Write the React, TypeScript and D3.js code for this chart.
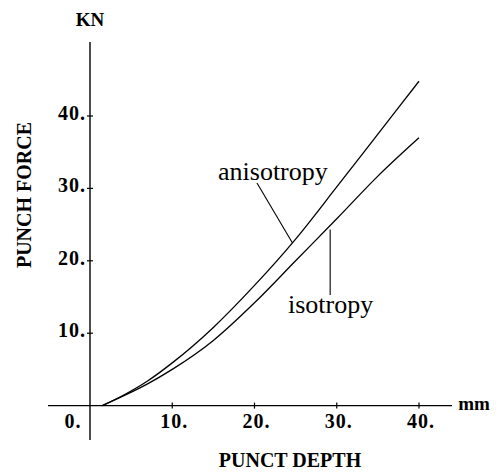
import React from 'react';
import * as d3 from 'd3';

// punch depth (mm) vs punch force (kN)
const anisoDepth = [1.5, 4, 7, 10, 15, 20, 25, 30, 35, 40];
const anisoForce = [0, 1.4, 3.4, 5.9, 10.8, 16.6, 23.0, 30.2, 37.5, 44.8];
const isoDepth = [1.5, 4, 7, 10, 15, 20, 25, 30, 35, 40];
const isoForce = [0, 1.3, 3.0, 5.0, 9.0, 14.2, 20.0, 25.8, 31.7, 37.0];
const xTicks = [0, 10, 20, 30, 40];
const yTicks = [10, 20, 30, 40];

const serif = '"Liberation Serif", "DejaVu Serif", serif';

export default function App() {
  const width = 499, height = 472;
  const x = d3.scaleLinear().domain([0, 40]).range([90, 419]);
  const y = d3.scaleLinear().domain([0, 40]).range([405.6, 116]);

  const line = d3.line<[number, number]>()
    .x(d => x(d[0]))
    .y(d => y(d[1]))
    .curve(d3.curveMonotoneX);

  const aniso = anisoDepth.map((d, i) => [d, anisoForce[i]] as [number, number]);
  const iso = isoDepth.map((d, i) => [d, isoForce[i]] as [number, number]);

  // points where the label leaders touch the curves
  const anisoAt = d3.scaleLinear().domain(anisoDepth).range(anisoForce);
  const isoAt = d3.scaleLinear().domain(isoDepth).range(isoForce);
  const aPt = [x(24.6), y(anisoAt(24.6))];
  const iPt = [x(29.2), y(isoAt(29.2))];

  const tickFont = { fontFamily: serif, fontWeight: 'bold', fontSize: 20, letterSpacing: 1 } as const;

  return (
    <svg width={width} height={height} style={{ position: 'absolute', left: 0, top: 0, background: '#fff' }}>
      {/* axes */}
      <line x1={x(0)} x2={x(0)} y1={42} y2={440} stroke="#000" strokeWidth={1.4} />
      <line x1={48} x2={452} y1={y(0)} y2={y(0)} stroke="#000" strokeWidth={1.4} />

      {yTicks.map(t => (
        <g key={'y' + t}>
          <line x1={x(0) - 3} x2={x(0) + 3} y1={y(t)} y2={y(t)} stroke="#000" strokeWidth={1.2} />
          <text x={86} y={y(t) + 4} textAnchor="end" style={tickFont}>{t}.</text>
        </g>
      ))}
      {xTicks.map(t => (
        <g key={'x' + t}>
          {t > 0 && <line x1={x(t)} x2={x(t)} y1={y(0) - 3} y2={y(0) + 3} stroke="#000" strokeWidth={1.2} />}
          <text x={t === 0 ? 73 : x(t) + 2} y={428} textAnchor="middle" style={tickFont}>{t}.</text>
        </g>
      ))}

      <text x={90} y={26} textAnchor="middle" style={{ ...tickFont, fontSize: 19, letterSpacing: 0 }}>KN</text>
      <text x={474} y={410} textAnchor="middle" style={{ ...tickFont, fontSize: 19, letterSpacing: 0 }}>mm</text>

      <text transform="translate(31,195) rotate(-90)" textAnchor="middle"
        style={{ fontFamily: serif, fontWeight: 'bold', fontSize: 20 }}>PUNCH FORCE</text>
      <text x={290} y={467} textAnchor="middle"
        style={{ fontFamily: serif, fontWeight: 'bold', fontSize: 20 }}>PUNCT DEPTH</text>

      {/* curves */}
      <path d={line(aniso) ?? ''} fill="none" stroke="#000" strokeWidth={1.3} />
      <path d={line(iso) ?? ''} fill="none" stroke="#000" strokeWidth={1.3} />

      {/* labels with leaders */}
      <text x={218} y={180} style={{ fontFamily: serif, fontSize: 26 }}>anisotropy</text>
      <line x1={257} y1={183} x2={aPt[0]} y2={aPt[1]} stroke="#000" strokeWidth={1.1} />
      <text x={288} y={313} style={{ fontFamily: serif, fontSize: 26 }}>isotropy</text>
      <line x1={iPt[0]} y1={iPt[1] + 4} x2={iPt[0]} y2={295} stroke="#000" strokeWidth={1.1} />
    </svg>
  );
}
